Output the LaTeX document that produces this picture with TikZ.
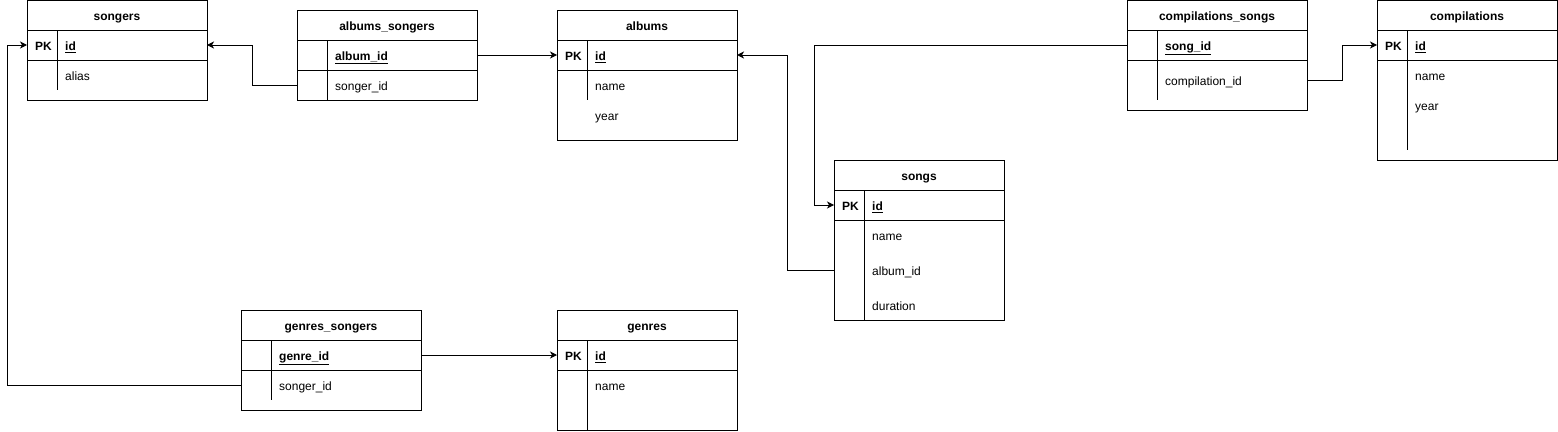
\documentclass[tikz,border=0pt]{standalone}
\usepackage{fontspec}
\setmainfont{Liberation Sans}
\usetikzlibrary{arrows.meta}
\tikzset{
  tbl/.style={draw, line width=1pt, anchor=north west, inner sep=0pt, outer sep=0pt},
  rowbox/.style={anchor=north west, inner sep=0pt, outer sep=0pt},
  sep/.style={line width=1pt},
  hdr/.style={font=\fontsize{12pt}{14pt}\selectfont\bfseries, anchor=base, inner sep=0pt, yshift=-1pt},
  txt/.style={font=\fontsize{12pt}{14pt}\selectfont, anchor=base west, inner sep=0pt, yshift=-1pt},
  keytxt/.style={font=\fontsize{12pt}{14pt}\selectfont\bfseries, anchor=base west, inner sep=0pt, yshift=-1pt},
  conn/.style={line width=1pt, -{Stealth[length=7pt,width=7pt,inset=2pt]}},
}
\newcommand{\ulk}[1]{\underline{#1}}
\begin{document}
\begin{tikzpicture}[x=1pt,y=-1pt]
\useasboundingbox (0,0) rectangle (1558,431);

% ---------- songers ----------
\node[tbl, minimum width=180pt, minimum height=100pt] (songers) at (27,0) {};
\node[hdr] (songers-h) at (117,19.5) {songers};
\node[rowbox, minimum width=180pt, minimum height=30pt] (songers-id) at (27,30) {};
\node[rowbox, minimum width=180pt, minimum height=30pt] (songers-alias) at (27,60) {};
\draw[sep] (songers-id.north west) -- (songers-id.north east);
\draw[sep] (songers-id.south west) -- (songers-id.south east);
\draw[sep] (57,30) -- (57,90);
\node[keytxt] (songers-pk) at (35,49.5) {PK};
\node[keytxt] (songers-t1) at (65,49.5) {\ulk{id}};
\node[txt] (songers-t2) at (65,79.5) {alias};

% ---------- albums_songers ----------
\node[tbl, minimum width=180pt, minimum height=90pt] (as) at (297,10) {};
\node[hdr] (as-h) at (387,29.5) {albums\_songers};
\node[rowbox, minimum width=180pt, minimum height=30pt] (as-album) at (297,40) {};
\node[rowbox, minimum width=180pt, minimum height=30pt] (as-songer) at (297,70) {};
\draw[sep] (as-album.north west) -- (as-album.north east);
\draw[sep] (as-album.south west) -- (as-album.south east);
\draw[sep] (327,40) -- (327,100);
\node[keytxt] (as-t1) at (335,59.5) {\ulk{album\_id}};
\node[txt] (as-t2) at (335,89.5) {songer\_id};

% ---------- albums ----------
\node[tbl, minimum width=180pt, minimum height=130pt] (albums) at (557,10) {};
\node[hdr] (albums-h) at (647,29.5) {albums};
\node[rowbox, minimum width=180pt, minimum height=30pt] (albums-id) at (557,40) {};
\draw[sep] (albums-id.north west) -- (albums-id.north east);
\draw[sep] (albums-id.south west) -- (albums-id.south east);
\draw[sep] (587,40) -- (587,100);
\node[keytxt] (albums-pk) at (565,59.5) {PK};
\node[keytxt] (albums-t1) at (595,59.5) {\ulk{id}};
\node[txt] (albums-t2) at (595,89.5) {name};
\node[txt] (albums-t3) at (595,119.5) {year};

% ---------- compilations_songs ----------
\node[tbl, minimum width=180pt, minimum height=110pt] (cs) at (1127,0) {};
\node[hdr] (cs-h) at (1217,19.5) {compilations\_songs};
\node[rowbox, minimum width=180pt, minimum height=30pt] (cs-song) at (1127,30) {};
\node[rowbox, minimum width=180pt, minimum height=40pt] (cs-comp) at (1127,60) {};
\draw[sep] (cs-song.north west) -- (cs-song.north east);
\draw[sep] (cs-song.south west) -- (cs-song.south east);
\draw[sep] (1157,30) -- (1157,100);
\node[keytxt] (cs-t1) at (1165,49.5) {\ulk{song\_id}};
\node[txt] (cs-t2) at (1165,84.5) {compilation\_id};

% ---------- compilations ----------
\node[tbl, minimum width=180pt, minimum height=160pt] (comp) at (1377,0) {};
\node[hdr] (comp-h) at (1467,19.5) {compilations};
\node[rowbox, minimum width=180pt, minimum height=30pt] (comp-id) at (1377,30) {};
\draw[sep] (comp-id.north west) -- (comp-id.north east);
\draw[sep] (comp-id.south west) -- (comp-id.south east);
\draw[sep] (1407,30) -- (1407,150);
\node[keytxt] (comp-pk) at (1385,49.5) {PK};
\node[keytxt] (comp-t1) at (1415,49.5) {\ulk{id}};
\node[txt] (comp-t2) at (1415,79.5) {name};
\node[txt] (comp-t3) at (1415,109.5) {year};

% ---------- songs ----------
\node[tbl, minimum width=170pt, minimum height=160pt] (songs) at (834,160) {};
\node[hdr] (songs-h) at (919,179.5) {songs};
\node[rowbox, minimum width=170pt, minimum height=30pt] (songs-id) at (834,190) {};
\node[rowbox, minimum width=170pt, minimum height=40pt] (songs-album) at (834,250) {};
\draw[sep] (songs-id.north west) -- (songs-id.north east);
\draw[sep] (songs-id.south west) -- (songs-id.south east);
\draw[sep] (864,190) -- (864,320);
\node[keytxt] (songs-pk) at (842,209.5) {PK};
\node[keytxt] (songs-t1) at (872,209.5) {\ulk{id}};
\node[txt] (songs-t2) at (872,239.5) {name};
\node[txt] (songs-t3) at (872,274.5) {album\_id};
\node[txt] (songs-t4) at (872,309.5) {duration};

% ---------- genres_songers ----------
\node[tbl, minimum width=180pt, minimum height=100pt] (gs) at (241,310) {};
\node[hdr] (gs-h) at (331,329.5) {genres\_songers};
\node[rowbox, minimum width=180pt, minimum height=30pt] (gs-genre) at (241,340) {};
\node[rowbox, minimum width=180pt, minimum height=30pt] (gs-songer) at (241,370) {};
\draw[sep] (gs-genre.north west) -- (gs-genre.north east);
\draw[sep] (gs-genre.south west) -- (gs-genre.south east);
\draw[sep] (271,340) -- (271,400);
\node[keytxt] (gs-t1) at (279,359.5) {\ulk{genre\_id}};
\node[txt] (gs-t2) at (279,389.5) {songer\_id};

% ---------- genres ----------
\node[tbl, minimum width=180pt, minimum height=120pt] (genres) at (557,310) {};
\node[hdr] (genres-h) at (647,329.5) {genres};
\node[rowbox, minimum width=180pt, minimum height=30pt] (genres-id) at (557,340) {};
\draw[sep] (genres-id.north west) -- (genres-id.north east);
\draw[sep] (genres-id.south west) -- (genres-id.south east);
\draw[sep] (587,340) -- (587,430);
\node[keytxt] (genres-pk) at (565,359.5) {PK};
\node[keytxt] (genres-t1) at (595,359.5) {\ulk{id}};
\node[txt] (genres-t2) at (595,389.5) {name};

% ---------- connectors ----------
\draw[conn] (as-songer.west) -- ++(-45,0) |- (songers-id.east);
\draw[conn] (gs-songer.west) -- ++(-234,0) |- (songers-id.west);
\draw[conn] (as-album.east) -- (albums-id.west);
\draw[conn] (songs-album.west) -- ++(-47,0) |- (albums-id.east);
\draw[conn] (cs-song.west) -- ++(-313,0) |- (songs-id.west);
\draw[conn] (cs-comp.east) -- ++(35,0) |- (comp-id.west);
\draw[conn] (gs-genre.east) -- (genres-id.west);
\end{tikzpicture}
\end{document}
